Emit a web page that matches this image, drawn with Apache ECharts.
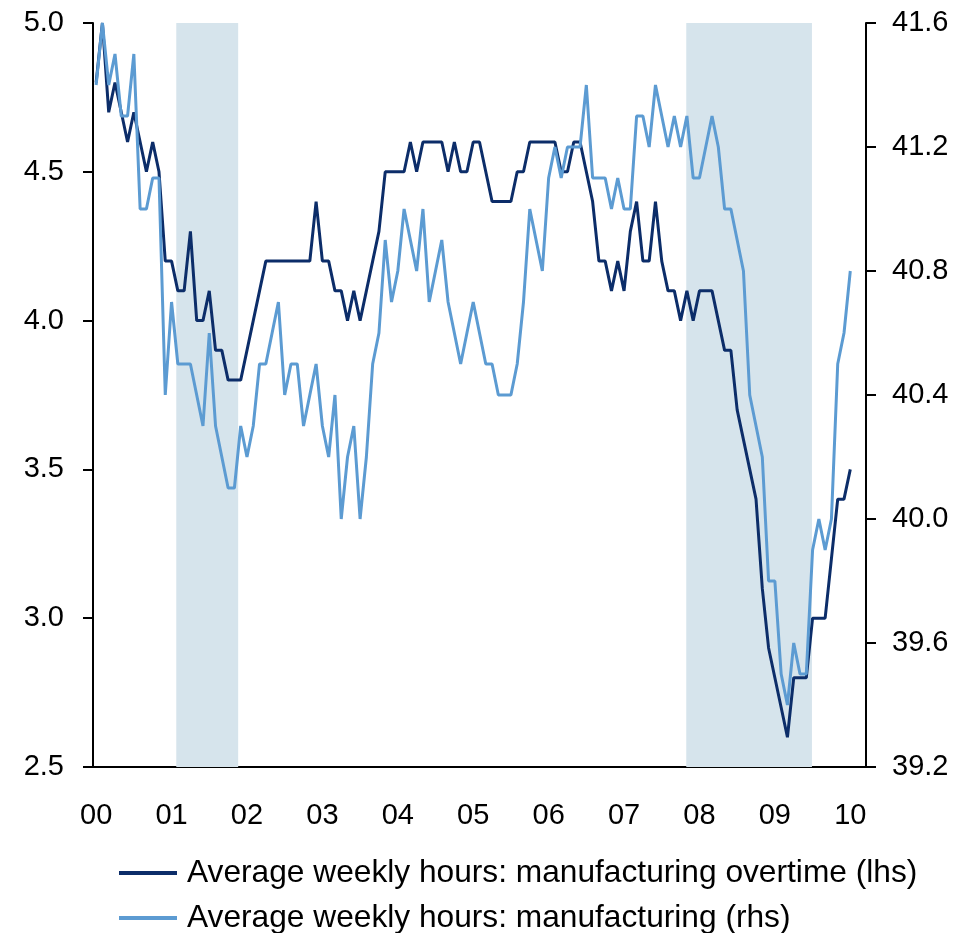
<!DOCTYPE html>
<html>
<head>
<meta charset="utf-8">
<script src="https://cdn.jsdelivr.net/npm/echarts@6/dist/echarts.min.js"></script>
<style>
html, body { margin: 0; padding: 0; background: #fff; }
#chart { width: 974px; height: 933px; }
</style>
</head>
<body>
<div id="chart"></div>
<script>
// monthly series, Jan 2000 .. Jan 2010
var startYear = 2000;
var monthCount = 123; // axis runs a little past the last point
var yearLabels = ['00', '01', '02', '03', '04', '05', '06', '07', '08', '09', '10'];

var overtime = [
  4.8, 5.0, 4.7, 4.8, 4.7, 4.6, 4.7, 4.6, 4.5, 4.6, 4.5, 4.2,
  4.2, 4.1, 4.1, 4.3, 4.0, 4.0, 4.1, 3.9, 3.9, 3.8, 3.8, 3.8,
  3.9, 4.0, 4.1, 4.2, 4.2, 4.2, 4.2, 4.2, 4.2, 4.2, 4.2, 4.4,
  4.2, 4.2, 4.1, 4.1, 4.0, 4.1, 4.0, 4.1, 4.2, 4.3, 4.5, 4.5,
  4.5, 4.5, 4.6, 4.5, 4.6, 4.6, 4.6, 4.6, 4.5, 4.6, 4.5, 4.5,
  4.6, 4.6, 4.5, 4.4, 4.4, 4.4, 4.4, 4.5, 4.5, 4.6, 4.6, 4.6,
  4.6, 4.6, 4.5, 4.5, 4.6, 4.6, 4.5, 4.4, 4.2, 4.2, 4.1, 4.2,
  4.1, 4.3, 4.4, 4.2, 4.2, 4.4, 4.2, 4.1, 4.1, 4.0, 4.1, 4.0,
  4.1, 4.1, 4.1, 4.0, 3.9, 3.9, 3.7, 3.6, 3.5, 3.4, 3.1, 2.9,
  2.8, 2.7, 2.6, 2.8, 2.8, 2.8, 3.0, 3.0, 3.0, 3.2, 3.4, 3.4,
  3.5
];

var hours = [
  41.4, 41.6, 41.4, 41.5, 41.3, 41.3, 41.5, 41.0, 41.0, 41.1, 41.1, 40.4,
  40.7, 40.5, 40.5, 40.5, 40.4, 40.3, 40.6, 40.3, 40.2, 40.1, 40.1, 40.3,
  40.2, 40.3, 40.5, 40.5, 40.6, 40.7, 40.4, 40.5, 40.5, 40.3, 40.4, 40.5,
  40.3, 40.2, 40.4, 40.0, 40.2, 40.3, 40.0, 40.2, 40.5, 40.6, 40.9, 40.7,
  40.8, 41.0, 40.9, 40.8, 41.0, 40.7, 40.8, 40.9, 40.7, 40.6, 40.5, 40.6,
  40.7, 40.6, 40.5, 40.5, 40.4, 40.4, 40.4, 40.5, 40.7, 41.0, 40.9, 40.8,
  41.1, 41.2, 41.1, 41.2, 41.2, 41.2, 41.4, 41.1, 41.1, 41.1, 41.0, 41.1,
  41.0, 41.0, 41.3, 41.3, 41.2, 41.4, 41.3, 41.2, 41.3, 41.2, 41.3, 41.1,
  41.1, 41.2, 41.3, 41.2, 41.0, 41.0, 40.9, 40.8, 40.4, 40.3, 40.2, 39.8,
  39.8, 39.5, 39.4, 39.6, 39.5, 39.5, 39.9, 40.0, 39.9, 40.0, 40.5, 40.6,
  40.8
];

// recession spans in months from Jan 2000
var recessions = [[13.25, 23.1], [94.4, 114.4]];

var seriesNames = [
  'Average weekly hours: manufacturing overtime (lhs)',
  'Average weekly hours: manufacturing (rhs)'
];

var months = [];
for (var i = 0; i < monthCount; i++) {
  months.push((startYear + Math.floor(i / 12)) + '-' + (i % 12 + 1));
}

var font = "'Liberation Sans', Arial, sans-serif";
var dark = '#0c2d69';
var light = '#5c9bd2';
var shade = '#d6e4ec';

var chart = echarts.init(document.getElementById('chart'));

var axisLineStyle = { color: '#000', width: 2 };

function legendRow(name, top) {
  return {
    left: 119,
    top: top,
    padding: 0,
    itemWidth: 58,
    itemHeight: 4,
    icon: 'rect',
    selectedMode: false,
    textStyle: { fontFamily: font, fontSize: 31.7, lineHeight: 32, color: '#000', padding: [0, 0, 0, 5] },
    data: [name]
  };
}

var option = {
  animation: false,
  grid: { left: 93, right: 108, top: 23, bottom: 166 },
  legend: [legendRow(seriesNames[0], 857), legendRow(seriesNames[1], 902)],
  xAxis: [{
    type: 'category',
    data: months,
    boundaryGap: true,
    axisLine: { lineStyle: axisLineStyle },
    axisTick: {
      length: 10,
      lineStyle: axisLineStyle,
      interval: function (idx) { return idx % 12 === 0; }
    },
    axisLabel: {
      interval: function (idx) { return idx % 12 === 0; },
      formatter: function (v, idx) { return yearLabels[idx / 12]; },
      margin: 34,
      fontFamily: font,
      fontSize: 29,
      color: '#000'
    },
    splitLine: { show: false }
  }, {
    type: 'value',
    min: 0,
    max: monthCount,
    show: false
  }],
  yAxis: [{
    type: 'value',
    position: 'left',
    min: 2.5,
    max: 5.0,
    interval: 0.5,
    axisLine: { show: true, lineStyle: axisLineStyle },
    axisTick: { show: true, length: 10, lineStyle: axisLineStyle },
    axisLabel: {
      formatter: function (v) { return v.toFixed(1); },
      margin: 29,
      fontFamily: font,
      fontSize: 29,
      color: '#000'
    },
    splitLine: { show: false }
  }, {
    type: 'value',
    position: 'right',
    min: 39.2,
    max: 41.6,
    interval: 0.4,
    axisLine: { show: true, lineStyle: axisLineStyle },
    axisTick: { show: true, length: 10, lineStyle: axisLineStyle },
    axisLabel: {
      formatter: function (v) { return v.toFixed(1); },
      margin: 26,
      fontFamily: font,
      fontSize: 29,
      color: '#000'
    },
    splitLine: { show: false }
  }],
  series: [
    {
      name: 'recession',
      type: 'line',
      xAxisIndex: 1,
      yAxisIndex: 0,
      data: [],
      z: 1,
      markArea: {
        silent: true,
        itemStyle: { color: shade },
        data: recessions.map(function (r) { return [{ xAxis: r[0] }, { xAxis: r[1] }]; })
      }
    },
    {
      name: seriesNames[0],
      type: 'line',
      data: overtime,
      yAxisIndex: 0,
      showSymbol: false,
      symbol: 'none',
      z: 3,
      lineStyle: { width: 3, color: dark },
      itemStyle: { color: dark }
    },
    {
      name: seriesNames[1],
      type: 'line',
      data: hours,
      yAxisIndex: 1,
      showSymbol: false,
      symbol: 'none',
      z: 4,
      lineStyle: { width: 3, color: light },
      itemStyle: { color: light }
    }
  ]
};

chart.setOption(option);
</script>
</body>
</html>
